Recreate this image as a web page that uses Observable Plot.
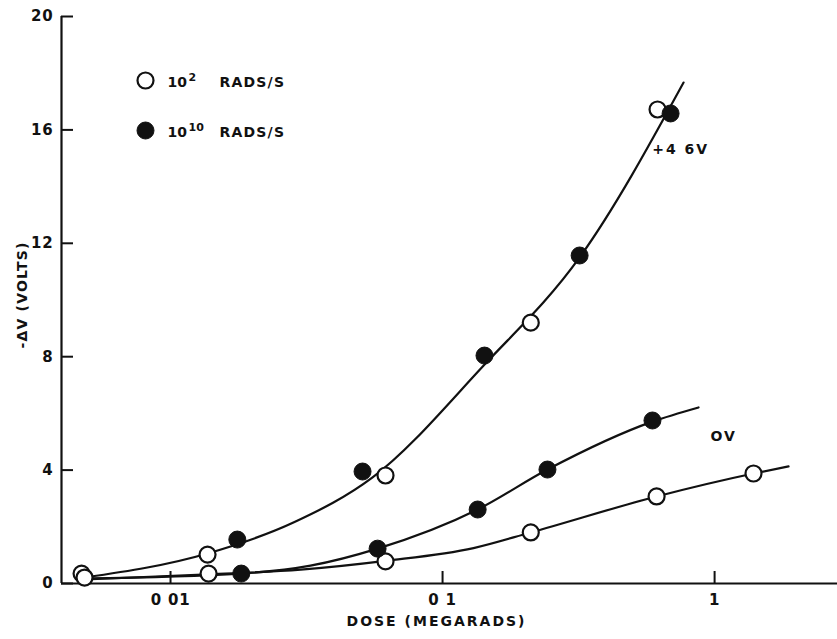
<!DOCTYPE html>
<html>
<head>
<meta charset="utf-8">
<script src="https://cdn.jsdelivr.net/npm/d3@7"></script>
<script src="https://cdn.jsdelivr.net/npm/@observablehq/plot@0.6"></script>
<style>
  html, body { margin: 0; padding: 0; background: #fff; }
  #chart { width: 837px; height: 639px; }
  #chart svg { display: block; }
  #chart svg text { letter-spacing: 0.8px; }
</style>
</head>
<body>
<div id="chart"></div>
<script>
// Threshold shift -ΔV versus dose, at two dose rates and two gate biases.

// Axis ticks and their printed labels
const xTicks = [0.01, 0.1, 1];
const xTickLabels = ["0 01", "0 1", "1"];
const yTicks = [0, 4, 8, 12, 16, 20];

// Measured points, 10^2 rads/s (open circles)
const lowRateDose  = [0.00471, 0.00483, 0.01368, 0.0138, 0.0617, 0.0617, 0.211, 0.211, 0.612, 0.617, 1.39];
const lowRateShift = [0.35,    0.21,    1.02,    0.35,   3.81,   0.78,   9.2,   1.8,   3.07,  16.72, 3.88];

// Measured points, 10^10 rads/s (filled circles)
const highRateDose  = [0.0176, 0.0182, 0.0508, 0.0577, 0.1346, 0.1426, 0.243, 0.319, 0.591, 0.689];
const highRateShift = [1.55,   0.35,   3.95,   1.23,   2.61,   8.04,   4.02,  11.57, 5.75,  16.58];

// Fitted curves
const curvePlusDose  = [0.00483, 0.01368, 0.0283, 0.0553, 0.1416, 0.319, 0.769];
const curvePlusShift = [0.21,    1.06,    2.15,   3.74,   7.69,   11.50, 17.67];

const curveZeroHighDose  = [0.00483, 0.0181, 0.0327, 0.0577, 0.1346, 0.243, 0.591, 0.873];
const curveZeroHighShift = [0.18,    0.35,   0.63,   1.23,   2.61,   4.02,  5.71,  6.21];

const curveZeroLowDose  = [0.00483, 0.0138, 0.0301, 0.0617, 0.130, 0.211, 0.612, 1.39, 1.87];
const curveZeroLowShift = [0.14,    0.32,   0.49,   0.80,   1.25,  1.80,  3.07,  3.88, 4.13];

// Bias labels beside the curves
const biasLabels = ["+4 6V", "OV"];
const biasDose   = [0.75, 1.08];
const biasShift  = [15.3, 5.2];

// Legend entries: base, exponent, unit
const legendBase = ["10", "10"];
const legendExp  = ["2", "10"];
const legendUnit = "RADS/S";

// Axis titles
const xTitle = "DOSE (MEGARADS)";
const yTitle = "-ΔV (VOLTS)";

const zip = (xs, ys) => xs.map((x, i) => ({dose: x, shift: ys[i]}));
const lowRate = zip(lowRateDose, lowRateShift);
const highRate = zip(highRateDose, highRateShift);
const curves = [
  zip(curvePlusDose, curvePlusShift),
  zip(curveZeroHighDose, curveZeroHighShift),
  zip(curveZeroLowDose, curveZeroLowShift)
];
const labels = biasLabels.map((t, i) => ({text: t, dose: biasDose[i], shift: biasShift[i]}));
const xLabelOf = new Map(xTicks.map((t, i) => [t, xTickLabels[i]]));

const W = 837, H = 639;
const mL = 61, mR = 0, mT = 16, mB = 56;
const frameW = W - mL - mR, frameH = H - mT - mB;
const xDomain = [0.003974, 2.83];
const ink = "#111";
const font = "DejaVu Sans, sans-serif";
const txt = {fill: ink, fontFamily: font, fontWeight: "bold"};

// legend row: marker, "10", exponent, unit
function legendRow(i, dy, filled) {
  const lt = {...txt, frameAnchor: "top-left", textAnchor: "start", lineAnchor: "middle", text: d => d};
  return [
    Plot.dot([i], {frameAnchor: "top-left", dx: 84, dy, r: filled ? 8.5 : 8,
      fill: filled ? ink : "#fff", stroke: ink, strokeWidth: filled ? 1 : 2.2}),
    Plot.text([legendBase[i]], {...lt, dx: 106, dy: dy + 2.5, fontSize: 14}),
    Plot.text([legendExp[i]], {...lt, dx: 127, dy: dy - 3.5, fontSize: 11}),
    Plot.text([legendUnit], {...lt, dx: 158, dy: dy + 2.5, fontSize: 14})
  ];
}

const marks = [
  // axis lines
  Plot.ruleX([xDomain[0]], {stroke: ink, strokeWidth: 2.2}),
  Plot.ruleY([0], {stroke: ink, strokeWidth: 2.2}),
  // inward ticks
  Plot.tickY(yTicks, {y: d => d, stroke: ink, strokeWidth: 2, insetRight: frameW - 12}),
  Plot.tickX(xTicks, {x: d => d, stroke: ink, strokeWidth: 2, insetTop: frameH - 12}),
  Plot.axisY({ticks: yTicks, tickSize: 0, tickPadding: 8, fontSize: 15, fontWeight: "bold", label: null}),
  Plot.axisX({ticks: xTicks, tickFormat: d => xLabelOf.get(d), tickSize: 0, tickPadding: 11,
    fontSize: 15, fontWeight: "bold", label: null}),
  // axis titles
  Plot.text([xTitle], {...txt, frameAnchor: "bottom", dx: -13, dy: 42, text: d => d, fontSize: 14}),
  Plot.text([yTitle], {...txt, frameAnchor: "left", textAnchor: "middle", dx: -39, dy: -5, rotate: -90,
    text: d => d, fontSize: 14}),
  // fitted curves
  ...curves.map(c => Plot.line(c, {x: "dose", y: "shift", curve: "monotone-x", stroke: ink, strokeWidth: 2.2})),
  // points
  Plot.dot(lowRate, {x: "dose", y: "shift", r: 8, fill: "#fff", stroke: ink, strokeWidth: 2.2}),
  Plot.dot(highRate, {x: "dose", y: "shift", r: 8.5, fill: ink, stroke: ink, strokeWidth: 1}),
  // bias labels
  Plot.text(labels, {...txt, x: "dose", y: "shift", text: "text", fontSize: 14}),
  // legend
  ...legendRow(0, 64, false),
  ...legendRow(1, 114, true)
];

const chart = Plot.plot({
  width: W,
  height: H,
  marginLeft: mL,
  marginRight: mR,
  marginTop: mT,
  marginBottom: mB,
  style: {fontFamily: font, color: ink, background: "#fff", overflow: "visible"},
  x: {type: "log", domain: xDomain},
  y: {domain: [0, 20]},
  marks
});

// wider lettering on titles and curve labels, none on the legend powers
const spaced = new Map([[xTitle, "2px"], [yTitle, "1.2px"], [biasLabels[0], "2px"], [biasLabels[1], "2px"],
  [legendUnit, "1.2px"], ["10", "0px"], ["2", "0px"]]);
d3.select(chart).selectAll("text").each(function () {
  const s = spaced.get(this.textContent);
  if (s) this.style.letterSpacing = s;
});

document.getElementById("chart").append(chart);
</script>
</body>
</html>
